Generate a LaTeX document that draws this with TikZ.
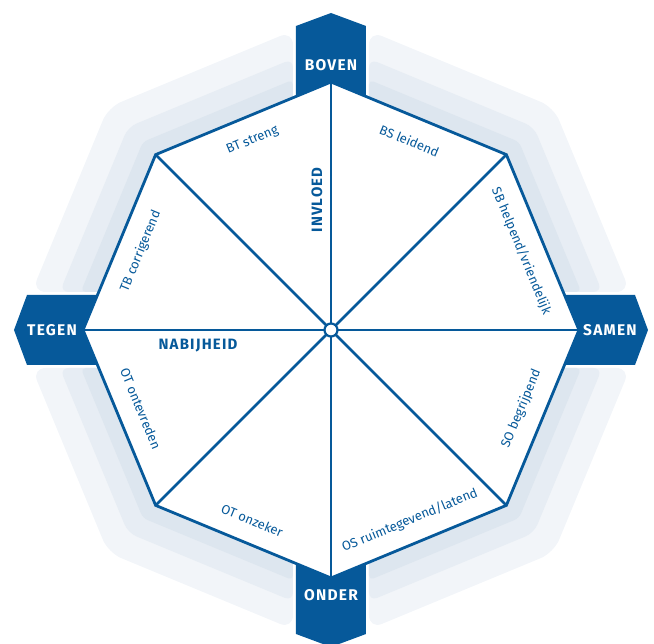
\documentclass[tikz,border=0pt]{standalone}
\usepackage{fontspec}
\setmainfont{Fira Sans}
\newfontfamily\trackedbold[LetterSpace=8]{Fira Sans}
\newfontfamily\boxbold[LetterSpace=8]{Fira Sans}
\definecolor{nblue}{RGB}{6,89,154}
\definecolor{bandA}{RGB}{242,245,249}
\definecolor{bandB}{RGB}{231,237,244}
\definecolor{bandC}{RGB}{221,230,239}
\begin{document}
\begin{tikzpicture}[x=1pt,y=1pt,
  lbl/.style={text=nblue,font=\fontsize{13}{15}\selectfont,inner sep=0pt},
  axislbl/.style={text=nblue,font=\trackedbold\bfseries\fontsize{15}{17}\selectfont,inner sep=0pt},
  boxlbl/.style={text=white,font=\boxbold\bfseries\fontsize{15.5}{17}\selectfont,inner sep=0pt},
  edge/.style={draw=nblue,line width=2.8pt,line join=miter},
  spoke/.style={draw=nblue,line width=2.5pt},
  boxfill/.style={fill=nblue}]
\useasboundingbox (-331,-314) rectangle (323,330);
% background bands
\foreach \q in {0,90,180,270}{
  \foreach \R/\rc/\col in {315/14/bandA, 287/9/bandB, 266/5/bandC}{
    \pgfmathsetmacro\ptop{\R-15.74}
    \pgfmathsetmacro\pdiag{\R*0.70711}
    \fill[\col,rotate=\q,rounded corners=\rc] (-38,38) -- (-38,\ptop) -- (-\pdiag,\pdiag) -- (-\ptop,38) -- cycle;
  }
}
% octagon
\foreach \i in {0,...,7}{\coordinate (v\i) at (\i*45:248);}
\coordinate (c) at (0,0);
\fill[white] (v0)--(v1)--(v2)--(v3)--(v4)--(v5)--(v6)--(v7)--cycle;
\foreach \i in {0,...,7}{\draw[spoke] (c) -- (v\i);}
\draw[edge] (v0)--(v1)--(v2)--(v3)--(v4)--(v5)--(v6)--(v7)--cycle;
\node[circle,draw=nblue,fill=white,line width=2.2pt,minimum size=13pt,inner sep=0pt] (hub) at (c) {};
% boxes
\foreach \r in {0,90,180,270}{
  \fill[boxfill,rotate=\r] (-35,233.5) -- (-35,304) -- (0,317) -- (35,304) -- (35,233.5) -- (0,248) -- cycle;
}
\node[boxlbl] (boven) at (0,265) {BOVEN};
\node[boxlbl] (onder) at (0,-265) {ONDER};
\node[boxlbl] (tegen) at (-279,0) {TEGEN};
\node[boxlbl] (samen) at (279,0) {SAMEN};
% axis labels
\node[axislbl,rotate=90] (invloed) at (-14,130) {INVLOED};
\node[axislbl] (nabijheid) at (-133,-16) {NABIJHEID};
% sector labels
\node[lbl,rotate=22.5] (bt) at (112.5:205) {BT streng};
\node[lbl,rotate=-22.5] (bs) at (67.5:205) {BS leidend};
\node[lbl,rotate=-67.5] (sb) at (22.5:206) {SB helpend/vriendelijk};
\node[lbl,rotate=67.5] (so) at (-22.5:206) {SO begrijpend};
\node[lbl,rotate=22.5] (os) at (-67.5:206) {OS ruimtegevend/latend};
\node[lbl,rotate=-22.5] (ot1) at (-112.5:206) {OT onzeker};
\node[lbl,rotate=-67.5] (ot2) at (-157.5:206) {OT ontevreden};
\node[lbl,rotate=67.5] (tb) at (157.5:206) {TB corrigerend};
\end{tikzpicture}
\end{document}
